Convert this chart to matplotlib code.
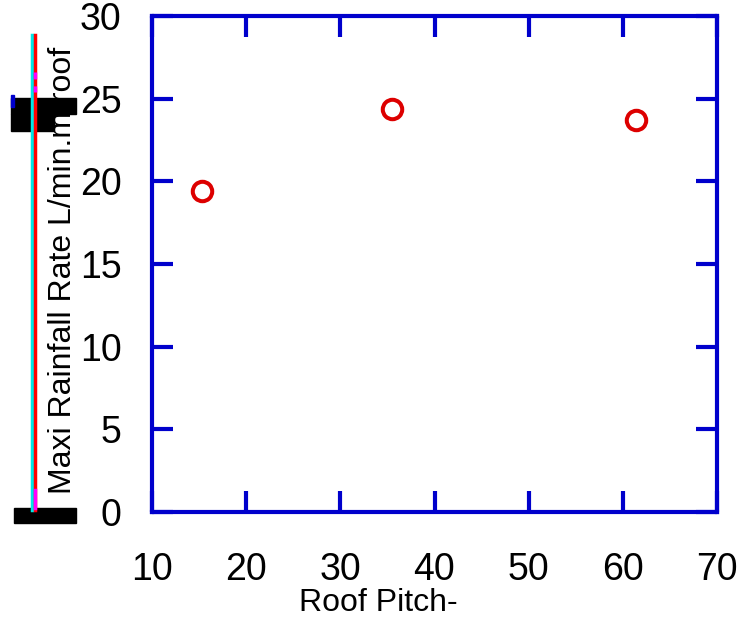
import numpy as np
import matplotlib.pyplot as plt
from matplotlib.patches import Rectangle
from matplotlib.lines import Line2D

# data
roof_pitch = [15.3, 35.5, 61.4]
max_rain = [19.4, 24.35, 23.7]
x_ticks = [10, 20, 30, 40, 50, 60, 70]
y_ticks = [0, 5, 10, 15, 20, 25, 30]

plt.rcParams['font.family'] = ['Liberation Sans', 'DejaVu Sans']
blue = "#0000cc"

W, H = 749, 619
fig = plt.figure(figsize=(W / 100, H / 100), dpi=100)
ax = fig.add_axes([152 / W, 1 - 512 / H, (717 - 152) / W, (512 - 16) / H])

ax.plot(roof_pitch, max_rain, "o", mfc="none", mec="#dd0000", ms=14, mew=2.9)

ax.set_xlim(10, 70)
ax.set_ylim(0, 30)
ax.set_xticks(x_ticks)
ax.set_yticks(y_ticks)
for s in ax.spines.values():
    s.set_color(blue)
    s.set_linewidth(3)
ax.tick_params(axis="both", direction="in", length=15, width=3, color=blue,
               top=True, right=True, labelsize=27)
ax.tick_params(axis="x", pad=29)
ax.tick_params(axis="y", pad=22)

fig.text(378 / W, 1 - 603 / H, "Roof Pitch-", ha="center", va="center", fontsize=23)
fig.text(63 / W, 1 - 270 / H, "Maxi Rainfall Rate L/min.m roof", rotation=90,
         ha="center", va="center", fontsize=23)

# odd leftover marks along the left side of the original
def px(x, y):
    return x / W, 1 - y / H

fig.add_artist(Line2D([31.5 / W] * 2, [1 - 35 / H, 1 - 510 / H], color="#00e5e5", lw=2.5))
fig.add_artist(Line2D([35 / W] * 2, [1 - 35 / H, 1 - 510 / H], color="#ff0000", lw=2.5))
fig.add_artist(Line2D([35 / W] * 2, [1 - 72 / H, 1 - 92 / H], color="#ff00ff", lw=2.5, ls=(0, (2, 2))))
fig.add_artist(Line2D([35 / W] * 2, [1 - 490 / H, 1 - 508 / H], color="#ff00ff", lw=2.5))
fig.add_artist(Rectangle(px(11, 114), 65 / W, 16 / H, transform=fig.transFigure, color="black"))
fig.add_artist(Rectangle(px(11, 131), 43 / W, 17 / H, transform=fig.transFigure, color="black"))
fig.add_artist(Rectangle(px(11, 107), 3 / W, 12 / H, transform=fig.transFigure, color=blue))
fig.add_artist(Rectangle(px(14, 523), 62 / W, 15 / H, transform=fig.transFigure, color="black"))

fig.savefig("out.png", dpi=100)
